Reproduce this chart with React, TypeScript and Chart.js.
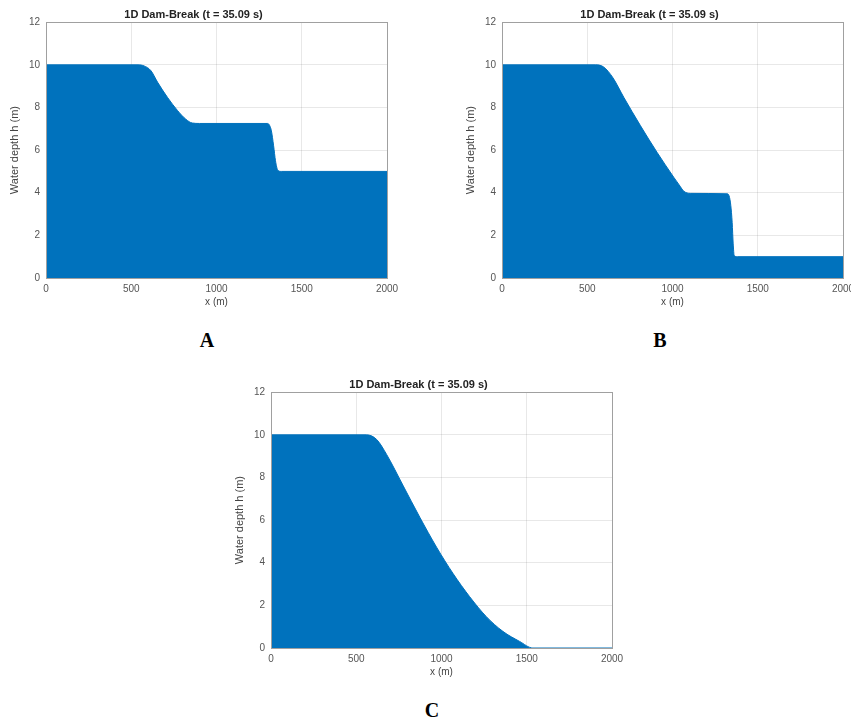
import React, { useEffect, useRef } from "react";
import { Chart, registerables } from "chart.js";

Chart.register(...registerables);

// ---- data ----
const titleText = "1D Dam-Break (t = 35.09 s)";
const xLabel = "x (m)";
const yLabel = "Water depth h (m)";
const xTicks = [0, 500, 1000, 1500, 2000];
const yTicks = [0, 2, 4, 6, 8, 10, 12];

const xA = [0, 540, 575, 615, 654, 712, 771, 820, 858, 900, 1300, 1312, 1322, 1335, 1346, 1360, 1380, 2000];
const hA = [10, 10, 9.95, 9.73, 9.19, 8.48, 7.86, 7.45, 7.27, 7.25, 7.25, 7.15, 6.9, 6.2, 5.5, 5.05, 5.0, 5.0];

const xB = [0, 550, 596, 650, 714, 811, 909, 1007, 1045, 1065, 1105, 1320, 1332, 1342, 1350, 1356, 1362, 1380, 2000];
const hB = [10, 10, 9.9, 9.4, 8.48, 7.16, 5.9, 4.73, 4.3, 4.08, 3.97, 3.95, 3.85, 3.4, 2.6, 1.6, 1.05, 1.0, 1.0];

const xC = [0, 560, 620, 678, 776, 873, 971, 1068, 1165, 1263, 1360, 1458, 1536, 2000];
const hC = [10, 10, 9.78, 9.08, 7.6, 6.13, 4.73, 3.49, 2.41, 1.47, 0.78, 0.31, 0, 0];

const panelLabels = ["A", "B", "C"];

const FILL = "#0072BD";
const SANS = "Liberation Sans, Arial, sans-serif";

const boxPlugin = {
  id: "boxPlugin",
  afterDraw(chart: any) {
    const { ctx, chartArea } = chart;
    ctx.save();
    ctx.strokeStyle = "#a0a0a0";
    ctx.lineWidth = 1;
    ctx.strokeRect(
      Math.round(chartArea.left) + 0.5,
      Math.round(chartArea.top) + 0.5,
      Math.round(chartArea.right - chartArea.left),
      Math.round(chartArea.bottom - chartArea.top)
    );
    ctx.restore();
  },
};

function DamChart({ xs, hs, left, top }: { xs: number[]; hs: number[]; left: number; top: number }) {
  const ref = useRef<HTMLCanvasElement | null>(null);
  useEffect(() => {
    if (!ref.current) return;
    const data = xs.map((x, i) => ({ x, y: hs[i] }));
    const chart = new Chart(ref.current, {
      type: "line",
      data: {
        datasets: [
          {
            data,
            borderColor: FILL,
            backgroundColor: FILL,
            borderWidth: 1,
            fill: "origin",
            pointRadius: 0,
            cubicInterpolationMode: "monotone",
          },
        ],
      },
      options: {
        animation: false,
        responsive: false,
        maintainAspectRatio: false,
        layout: { padding: { left: 0, right: 13, top: 0, bottom: 0 } },
        plugins: {
          legend: { display: false },
          tooltip: { enabled: false },
          title: {
            display: true,
            text: titleText,
            color: "#222",
            font: { family: SANS, size: 11, weight: "bold" },
            padding: { top: 8, bottom: 1 },
          },
        },
        scales: {
          x: {
            type: "linear",
            min: 0,
            max: 2000,
            afterBuildTicks: (s: any) => {
              s.ticks = xTicks.map((v) => ({ value: v }));
            },
            afterFit: (s: any) => {
              s.height = 32;
              s.paddingLeft = 0;
              s.paddingRight = 0;
            },
            grid: { color: "rgba(0,0,0,0.09)", drawTicks: false },
            border: { display: false },
            ticks: {
              color: "#555",
              font: { family: SANS, size: 10 },
              padding: 5,
              maxRotation: 0,
              callback: (v: any) => String(v),
            },
            title: {
              display: true,
              text: xLabel,
              color: "#444",
              font: { family: SANS, size: 10 },
              padding: { top: 0, bottom: 2 },
            },
          },
          y: {
            type: "linear",
            min: 0,
            max: 12,
            afterBuildTicks: (s: any) => {
              s.ticks = yTicks.map((v) => ({ value: v }));
            },
            afterFit: (s: any) => {
              s.width = 46;
            },
            grid: { color: "rgba(0,0,0,0.09)", drawTicks: false },
            border: { display: false },
            ticks: {
              color: "#555",
              font: { family: SANS, size: 10 },
              padding: 6,
              callback: (v: any) => String(v),
            },
            title: {
              display: true,
              text: yLabel,
              color: "#444",
              font: { family: SANS, size: 11 },
              padding: { top: 8, bottom: 0 },
            },
          },
        },
      } as any,
      plugins: [boxPlugin],
    });
    return () => chart.destroy();
  }, [xs, hs]);
  return (
    <canvas
      ref={ref}
      width={400}
      height={310}
      style={{ position: "absolute", left, top, width: 400, height: 310 }}
    />
  );
}

const labelStyle: React.CSSProperties = {
  position: "absolute",
  transform: "translate(-50%, -50%)",
  fontFamily: "'Liberation Serif', 'Times New Roman', serif",
  fontWeight: "bold",
  fontSize: 20,
  color: "#000",
  lineHeight: 1,
};

export default function App() {
  useEffect(() => {
    document.body.style.margin = "0";
  }, []);
  return (
    <div
      style={{
        position: "absolute",
        left: 0,
        top: 0,
        width: 851,
        height: 722,
        overflow: "hidden",
        background: "#fff",
      }}
    >
      <DamChart xs={xA} hs={hA} left={0} top={0} />
      <DamChart xs={xB} hs={hB} left={456} top={0} />
      <DamChart xs={xC} hs={hC} left={225} top={370} />
      <div style={{ ...labelStyle, left: 207, top: 340 }}>{panelLabels[0]}</div>
      <div style={{ ...labelStyle, left: 660, top: 340 }}>{panelLabels[1]}</div>
      <div style={{ ...labelStyle, left: 432, top: 710 }}>{panelLabels[2]}</div>
    </div>
  );
}
